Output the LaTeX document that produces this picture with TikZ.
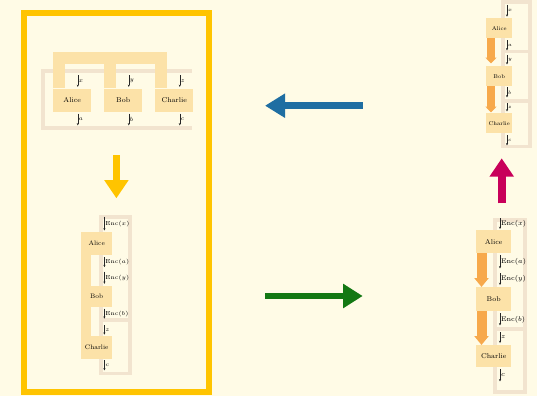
\RequirePackage{fix-cm}
\documentclass[tikz,border=0pt]{standalone}
\usetikzlibrary{arrows.meta,calc}

\definecolor{bg}{HTML}{FFFBE6}
\definecolor{partyfill}{HTML}{FCE2A8}
\definecolor{railcol}{HTML}{F2E4CF}
\definecolor{flowcol}{HTML}{F7A94B}
\definecolor{gold}{HTML}{FFC400}
\definecolor{bluearrow}{HTML}{1F6EA2}
\definecolor{greenarrow}{HTML}{137813}
\definecolor{magentaarrow}{HTML}{C8005A}

\newcommand\fsz[1]{\fontsize{#1}{#1}\selectfont}

\tikzset{
  partybox/.style={fill=partyfill, draw=none, inner sep=0pt, anchor=north west},
  railline/.style={draw=railcol, line join=miter},
  bus/.style={draw=partyfill, line cap=butt, line join=miter},
  msg/.style={draw=black!85, line width=0.45pt, -{Stealth[length=2.3pt,width=2.1pt]}},
  lab/.style={right, inner sep=0.8pt},
  flowarrow/.style={draw=flowcol, line cap=butt},
  blockarrow/.style={line cap=butt},
}

\begin{document}
\begin{tikzpicture}[x=1pt, y=-1pt]
  \fill[bg] (0,0) rectangle (537,396);
  \useasboundingbox (0,0) rectangle (537,396);

  % ---------- three parties side by side, joint computation ----------
  \draw[railline, line width=4pt] (191.7,71.3) -- (42.5,71.3) -- (42.5,128) -- (191.7,128);
  \node[partybox, minimum width=38pt, minimum height=23.7pt, font=\fsz{7}] (A1) at (53,88.3) {Alice};
  \node[partybox, minimum width=38pt, minimum height=23.7pt, font=\fsz{7}] (B1) at (104,88.3) {Bob};
  \node[partybox, minimum width=38pt, minimum height=23.7pt, font=\fsz{7}] (C1) at (155,88.3) {Charlie};
  \draw[bus, line width=12pt] ([xshift=6pt]A1.north west) -- ++(0,-30.5) -| ([xshift=6pt]C1.north west);
  \draw[bus, line width=12pt] ([xshift=6pt]B1.north west) -- ++(0,-30.6);
  \foreach \n/\i/\o in {A1/x/a, B1/y/b, C1/z/c}{
    \draw[msg] ($(\n.north west)+(24.8,-13.3)$) -- node[lab, font=\fsz{6}]{$\i$} ($(\n.north west)+(24.8,-1.4)$);
    \draw[msg] ($(\n.south west)+(24.8,1.3)$) -- node[lab, font=\fsz{6}]{$\o$} ($(\n.south west)+(24.8,13)$);
  }

  % ---------- frame around the two left diagrams ----------
  \draw[gold, line width=6pt] (23.6,13.2) rectangle (209.3,392);

  % ---------- sequential version (left) ----------
  \draw[railline, line width=3.6pt] (101,216.7) rectangle (129.8,320);
  \draw[railline, line width=3.6pt] (101,320) rectangle (129.8,373.3);
  \node[partybox, minimum width=31pt, minimum height=23pt, font=\fsz{6.5}] (A2) at (81,232) {Alice};
  \node[partybox, minimum width=31pt, minimum height=21pt, font=\fsz{6.5}] (B2) at (81,286) {Bob};
  \node[partybox, minimum width=31pt, minimum height=23pt, font=\fsz{6.5}] (C2) at (81,336) {Charlie};
  \draw[bus, line width=9.5pt] ([xshift=4.75pt]A2.south west) -- ([xshift=4.75pt]B2.north west);
  \draw[bus, line width=9.5pt] ([xshift=4.75pt]B2.south west) -- ([xshift=4.75pt]C2.north west);
  \draw[msg] ($(A2.north west)+(23.4,-15.3)$) -- node[lab, font=\fsz{5.8}]{$\mathrm{Enc}(x)$} ($(A2.north west)+(23.4,-1.5)$);
  \draw[msg] ($(A2.south west)+(23.4,1.7)$) -- node[lab, font=\fsz{5.8}]{$\mathrm{Enc}(a)$} ($(A2.south west)+(23.4,11.7)$);
  \draw[msg] ($(B2.north west)+(23.4,-14.3)$) -- node[lab, font=\fsz{5.8}]{$\mathrm{Enc}(y)$} ($(B2.north west)+(23.4,-2.2)$);
  \draw[msg] ($(B2.south west)+(23.4,1.3)$) -- node[lab, font=\fsz{5.8}]{$\mathrm{Enc}(b)$} ($(B2.south west)+(23.4,11.3)$);
  \draw[msg] ($(C2.north west)+(23.4,-11)$) -- node[lab, font=\fsz{5.8}]{$z$} ($(C2.north west)+(23.4,-1.3)$);
  \draw[msg] ($(C2.south west)+(23.4,1)$) -- node[lab, font=\fsz{5.8}]{$c$} ($(C2.south west)+(23.4,11)$);

  % ---------- sequential version with hand-offs (bottom right) ----------
  \draw[railline, line width=4pt] (495,220) rectangle (525,328.5);
  \draw[railline, line width=4pt] (495,328.5) rectangle (525,391.5);
  \node[partybox, minimum width=35pt, minimum height=23pt, font=\fsz{7}] (A3) at (476,230) {Alice};
  \node[partybox, minimum width=35pt, minimum height=24pt, font=\fsz{7}] (B3) at (476,287) {Bob};
  \node[partybox, minimum width=35pt, minimum height=22pt, font=\fsz{7}] (C3) at (476,345) {Charlie};
  \draw[flowarrow, line width=10pt, -{Triangle[length=9pt,width=14pt]}] ([xshift=5.5pt]A3.south west) -- ([xshift=5.5pt]B3.north west);
  \draw[flowarrow, line width=10pt, -{Triangle[length=9pt,width=14pt]}] ([xshift=5.5pt]B3.south west) -- ([xshift=5.5pt]C3.north west);
  \draw[msg] ($(A3.north west)+(24,-12)$) -- node[lab, font=\fsz{6.8}]{$\mathrm{Enc}(x)$} ($(A3.north west)+(24,-1)$);
  \draw[msg] ($(A3.south west)+(24,2)$) -- node[lab, font=\fsz{6.8}]{$\mathrm{Enc}(a)$} ($(A3.south west)+(24,15)$);
  \draw[msg] ($(B3.north west)+(24,-14)$) -- node[lab, font=\fsz{6.8}]{$\mathrm{Enc}(y)$} ($(B3.north west)+(24,-2)$);
  \draw[msg] ($(B3.south west)+(24,2)$) -- node[lab, font=\fsz{6.8}]{$\mathrm{Enc}(b)$} ($(B3.south west)+(24,14)$);
  \draw[msg] ($(C3.north west)+(24,-13)$) -- node[lab, font=\fsz{6.8}]{$z$} ($(C3.north west)+(24,-2)$);
  \draw[msg] ($(C3.south west)+(24,2)$) -- node[lab, font=\fsz{6.8}]{$c$} ($(C3.south west)+(24,14)$);

  % ---------- plain sequential version (top right) ----------
  \draw[railline, line width=3.3pt] (503,2) rectangle (530,51.7);
  \draw[railline, line width=3.3pt] (503,51.7) rectangle (530,101);
  \draw[railline, line width=3.3pt] (503,101) rectangle (530,146.7);
  \node[partybox, minimum width=26pt, minimum height=20pt, font=\fsz{5.5}] (A4) at (486,18) {Alice};
  \node[partybox, minimum width=26pt, minimum height=20pt, font=\fsz{5.5}] (B4) at (486,66) {Bob};
  \node[partybox, minimum width=26pt, minimum height=20pt, font=\fsz{5.5}] (C4) at (486,113) {Charlie};
  \draw[flowarrow, line width=8pt, -{Triangle[length=6pt,width=11pt]}, shorten >=2.5pt] ([xshift=5pt]A4.south west) -- ([xshift=5pt]B4.north west);
  \draw[flowarrow, line width=8pt, -{Triangle[length=6pt,width=11pt]}, shorten >=0.5pt] ([xshift=5pt]B4.south west) -- ([xshift=5pt]C4.north west);
  \draw[msg] ($(A4.north west)+(21,-13)$) -- node[lab, font=\fsz{5}]{$x$} ($(A4.north west)+(21,-1.3)$);
  \draw[msg] ($(A4.south west)+(21,2)$) -- node[lab, font=\fsz{5}]{$a$} ($(A4.south west)+(21,12)$);
  \draw[msg] ($(B4.north west)+(21,-11)$) -- node[lab, font=\fsz{5}]{$y$} ($(B4.north west)+(21,-1.5)$);
  \draw[msg] ($(B4.south west)+(21,1)$) -- node[lab, font=\fsz{5}]{$b$} ($(B4.south west)+(21,11)$);
  \draw[msg] ($(C4.north west)+(21,-10)$) -- node[lab, font=\fsz{5}]{$z$} ($(C4.north west)+(21,-1.5)$);
  \draw[msg] ($(C4.south west)+(21,2)$) -- node[lab, font=\fsz{5}]{$c$} ($(C4.south west)+(21,12)$);

  % ---------- block arrows between the diagrams ----------
  \coordinate (yTail) at (116.4,155);
  \coordinate (yTip) at (116.4,198.3);
  \coordinate (bTail) at (362.7,105.7);
  \coordinate (bTip) at (265,105.7);
  \coordinate (gTail) at (265,296);
  \coordinate (gTip) at (362.7,296);
  \coordinate (mTail) at (501.7,203.3);
  \coordinate (mTip) at (501.7,158.3);
  \draw[blockarrow, draw=gold, line width=7.5pt, -{Triangle[length=18.3pt,width=23.3pt]}] (yTail) -- (yTip);
  \draw[blockarrow, draw=bluearrow, line width=7.3pt, -{Triangle[length=20pt,width=23pt]}] (bTail) -- (bTip);
  \draw[blockarrow, draw=greenarrow, line width=6.7pt, -{Triangle[length=19.7pt,width=23.3pt]}] (gTail) -- (gTip);
  \draw[blockarrow, draw=magentaarrow, line width=8.3pt, -{Triangle[length=18.4pt,width=23.3pt]}] (mTail) -- (mTip);
\end{tikzpicture}
\end{document}
